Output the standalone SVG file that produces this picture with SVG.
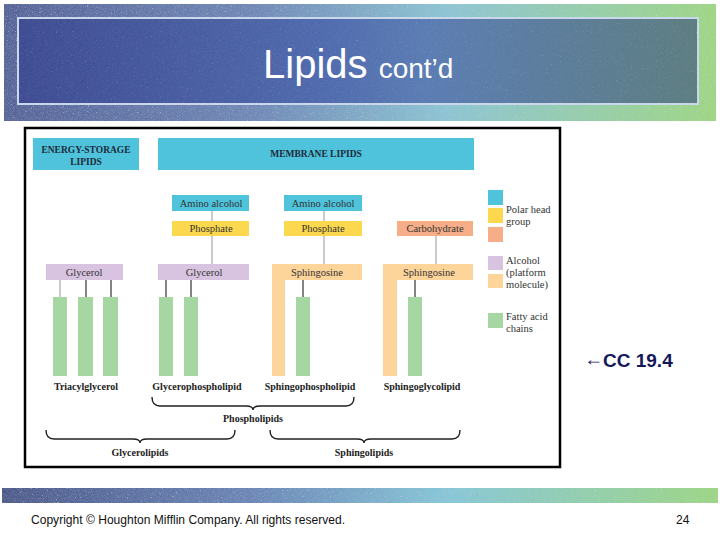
<svg xmlns="http://www.w3.org/2000/svg" width="720" height="540" viewBox="0 0 720 540">
<defs>
<linearGradient id="gOuter" x1="0" y1="0" x2="1" y2="0">
<stop offset="0" stop-color="#56649a"/><stop offset="0.35" stop-color="#6f88b8"/><stop offset="0.62" stop-color="#8cc6d6"/><stop offset="1" stop-color="#9ed884"/>
</linearGradient>
<linearGradient id="gInner" x1="0" y1="0" x2="1" y2="0">
<stop offset="0" stop-color="#3e4b92"/><stop offset="0.45" stop-color="#4f6aae"/><stop offset="0.6" stop-color="#5a7cb4"/><stop offset="1" stop-color="#5c7d80"/>
</linearGradient>
<linearGradient id="gFoot" x1="0" y1="0" x2="1" y2="0">
<stop offset="0" stop-color="#4d5a8c"/><stop offset="0.35" stop-color="#6a86b8"/><stop offset="0.62" stop-color="#86c8da"/><stop offset="1" stop-color="#9cd884"/>
</linearGradient>
<filter id="noise" x="0" y="0" width="1" height="1">
<feTurbulence type="fractalNoise" baseFrequency="1.2" numOctaves="2" seed="3" result="n"/>
<feColorMatrix in="n" type="saturate" values="0" result="g"/>
<feComponentTransfer in="g" result="a"><feFuncA type="discrete" tableValues="0 0 0.15 0.55"/></feComponentTransfer>
<feComposite in="a" in2="SourceGraphic" operator="in"/>
</filter>
<style>
.cy{fill:#4fc3dc}.ye{fill:#fcd84f}.sa{fill:#f5ae88}.pu{fill:#d8c3e0}.or{fill:#fdd49a}.gr{fill:#a6d6a1}
.bt{font-family:"Liberation Serif","Times New Roman",serif;font-size:10.5px;fill:#333;text-anchor:middle}
.hd{font-family:"Liberation Serif","Times New Roman",serif;font-size:9.5px;font-weight:bold;fill:#1e2a3a;text-anchor:middle}
.lb{font-family:"Liberation Serif","Times New Roman",serif;font-size:10px;font-weight:bold;fill:#222;text-anchor:middle}
.lg{font-family:"Liberation Serif","Times New Roman",serif;font-size:10.5px;fill:#333}
.ln{stroke:#333;stroke-width:1.2}
.lt{stroke:#aaa;stroke-width:1.2}
.br{fill:none;stroke:#222;stroke-width:1.4}
</style>
</defs>
<rect width="720" height="540" fill="#fff"/>
<!-- title banner -->
<g id="banner">
<rect x="4" y="4" width="712" height="117" fill="url(#gOuter)"/>
<rect x="4" y="4" width="712" height="117" fill="#fff" filter="url(#noise)"/>
<rect x="18" y="18" width="680" height="86" fill="url(#gInner)" stroke="#c9d8ea" stroke-width="2"/>
<rect x="18" y="18" width="680" height="86" fill="#fff" filter="url(#noise)" opacity="0.35"/>
<text x="263" y="78" font-family="Liberation Sans,Arial,sans-serif" font-size="40" fill="#fff">Lipids <tspan font-size="28">cont’d</tspan></text>
</g>
<!-- figure frame -->
<rect x="25" y="128" width="535" height="339" fill="#fff" stroke="#000" stroke-width="2.5"/>
<g id="energy-storage">
<rect class="cy" x="33" y="138" width="106" height="32"/>
<text class="hd" x="86" y="153">ENERGY-STORAGE</text>
<text class="hd" x="86" y="165">LIPIDS</text>
</g>
<g id="membrane">
<rect class="cy" x="158" y="138" width="316" height="32"/>
<text class="hd" x="316" y="157">MEMBRANE LIPIDS</text>
</g>
<g id="connectors">
<line class="lt" x1="212" y1="211" x2="212" y2="264"/>
<line class="lt" x1="324" y1="211" x2="324" y2="264"/>
<line class="lt" x1="436" y1="236" x2="436" y2="264"/>
<line class="lt" x1="60" y1="280" x2="60" y2="297"/>
<line class="ln" x1="86" y1="280" x2="86" y2="297"/>
<line class="ln" x1="111" y1="280" x2="111" y2="297"/>
<line class="ln" x1="166" y1="280" x2="166" y2="297"/>
<line class="ln" x1="191" y1="280" x2="191" y2="297"/>
<line class="ln" x1="303" y1="280" x2="303" y2="297"/>
<line class="ln" x1="415" y1="280" x2="415" y2="297"/>
</g>
<g id="amino1"><rect class="cy" x="172" y="195" width="77" height="16"/><text class="bt" x="211" y="207">Amino alcohol</text></g>
<g id="phosphate1"><rect class="ye" x="172" y="221" width="77" height="15"/><text class="bt" x="211" y="232">Phosphate</text></g>
<g id="amino2"><rect class="cy" x="284" y="195" width="78" height="16"/><text class="bt" x="323" y="207">Amino alcohol</text></g>
<g id="phosphate2"><rect class="ye" x="284" y="221" width="78" height="15"/><text class="bt" x="323" y="232">Phosphate</text></g>
<g id="carbohydrate"><rect class="sa" x="397" y="221" width="76" height="15"/><text class="bt" x="435" y="232">Carbohydrate</text></g>
<g id="glycerol1"><rect class="pu" x="46" y="264" width="77" height="16"/><text class="bt" x="84" y="276">Glycerol</text></g>
<g id="glycerol2"><rect class="pu" x="158" y="264" width="91" height="16"/><text class="bt" x="204" y="276">Glycerol</text></g>
<g id="sphingosine1"><path class="or" d="M272,264H362V280H285V376H272Z"/><text class="bt" x="317" y="276">Sphingosine</text></g>
<g id="sphingosine2"><path class="or" d="M383,264H473V280H397V376H383Z"/><text class="bt" x="429" y="276">Sphingosine</text></g>
<g id="chains">
<rect class="gr" x="53" y="297" width="14" height="79"/>
<rect class="gr" x="78" y="297" width="15" height="79"/>
<rect class="gr" x="103" y="297" width="15" height="79"/>
<rect class="gr" x="159" y="297" width="14" height="79"/>
<rect class="gr" x="184" y="297" width="14" height="79"/>
<rect class="gr" x="296" y="297" width="14" height="79"/>
<rect class="gr" x="408" y="297" width="14" height="79"/>
</g>
<g id="labels">
<text class="lb" x="86" y="390">Triacylglycerol</text>
<text class="lb" x="197" y="390">Glycerophospholipid</text>
<text class="lb" x="310" y="390">Sphingophospholipid</text>
<text class="lb" x="422" y="390">Sphingoglycolipid</text>
</g>
<g id="braces">
<path class="br" d="M152,397Q152,406 160,406H246Q253,406 253,410Q253,406 260,406H346Q354,406 354,397"/>
<text class="lb" x="253" y="422">Phospholipids</text>
<path class="br" d="M46,430Q46,439 54,439H133Q140,439 140,443Q140,439 147,439H227Q235,439 235,430"/>
<text class="lb" x="140" y="456">Glycerolipids</text>
<path class="br" d="M270,430Q270,439 278,439H357Q364,439 364,443Q364,439 371,439H452Q460,439 460,430"/>
<text class="lb" x="364" y="456">Sphingolipids</text>
</g>
<g id="legend">
<rect class="cy" x="488" y="190" width="15" height="15"/>
<rect class="ye" x="488" y="208" width="15" height="15"/>
<rect class="sa" x="488" y="227" width="15" height="15"/>
<text class="lg" x="506" y="213">Polar head</text>
<text class="lg" x="506" y="225">group</text>
<rect class="pu" x="488" y="256" width="15" height="14"/>
<rect class="or" x="488" y="274" width="15" height="14"/>
<text class="lg" x="506" y="264">Alcohol</text>
<text class="lg" x="506" y="276">(platform</text>
<text class="lg" x="506" y="288">molecule)</text>
<rect class="gr" x="488" y="313" width="15" height="15"/>
<text class="lg" x="506" y="320">Fatty acid</text>
<text class="lg" x="506" y="332">chains</text>
</g>
<g id="cc" font-family="Liberation Sans,Arial,sans-serif" fill="#16185c">
<text x="584" y="365" font-family="Liberation Serif,serif" font-size="18" textLength="19" lengthAdjust="spacingAndGlyphs">←</text>
<text x="603" y="367" font-size="19" font-weight="bold">CC 19.4</text>
</g>
<!-- footer -->
<g id="footer">
<rect x="2" y="488" width="716" height="15" fill="url(#gFoot)"/>
<rect x="2" y="488" width="716" height="15" fill="#fff" filter="url(#noise)"/>
<text x="31" y="524" font-family="Liberation Sans,Arial,sans-serif" font-size="12" fill="#111" textLength="314" lengthAdjust="spacingAndGlyphs">Copyright © Houghton Mifflin Company. All rights reserved.</text>
<text x="676" y="524" font-family="Liberation Sans,Arial,sans-serif" font-size="12" fill="#111">24</text>
</g>
</svg>
